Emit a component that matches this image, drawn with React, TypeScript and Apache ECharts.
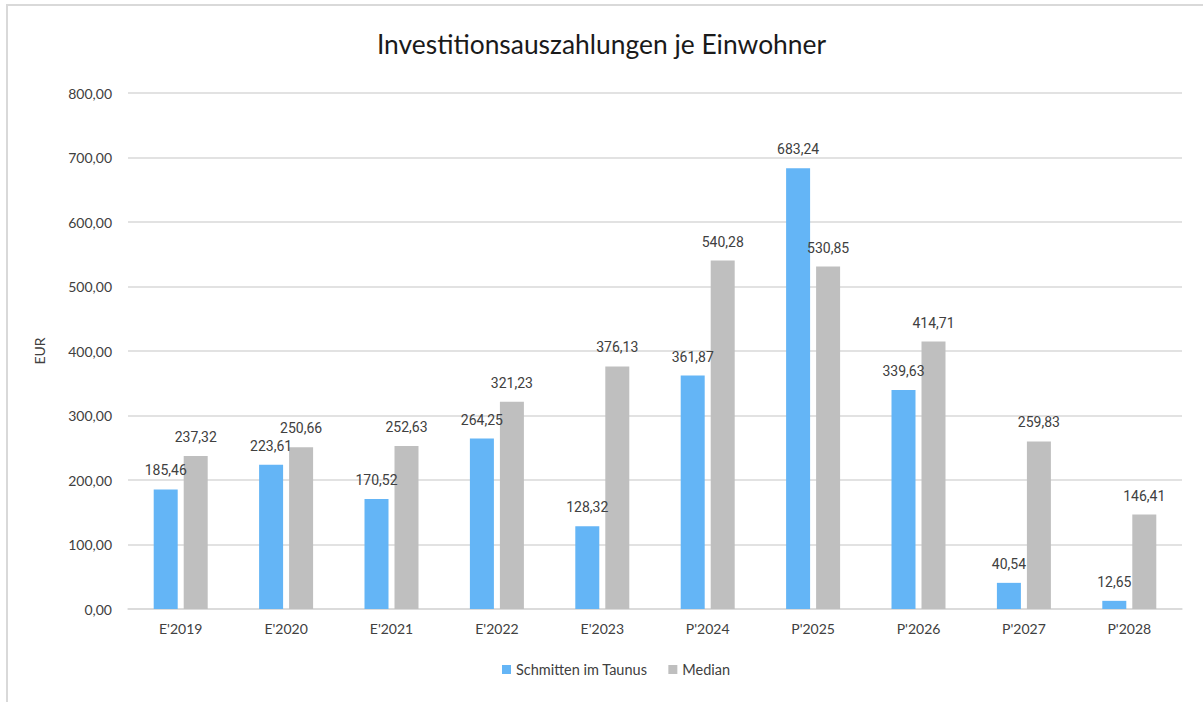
import React, { useEffect, useRef } from "react";
import * as echarts from "echarts";

const categories = ["E'2019", "E'2020", "E'2021", "E'2022", "E'2023", "P'2024", "P'2025", "P'2026", "P'2027", "P'2028"];
const schmittenValues = [185.46, 223.61, 170.52, 264.25, 128.32, 361.87, 683.24, 339.63, 40.54, 12.65];
const medianValues = [237.32, 250.66, 252.63, 321.23, 376.13, 540.28, 530.85, 414.71, 259.83, 146.41];
const seriesNames = ["Schmitten im Taunus", "Median"];
const titleText = "Investitionsauszahlungen je Einwohner";
const yAxisName = "EUR";

const fmt = (v: number) => v.toFixed(2).replace(".", ",");

export default function App() {
  const ref = useRef<HTMLDivElement>(null);
  useEffect(() => {
    if (!ref.current) return;
    const chart = echarts.init(ref.current, undefined, { renderer: "svg" });
    const labelStyle = {
      show: true,
      position: "top" as const,
      distance: 12,
      fontFamily: "Roboto",
      fontSize: 14,
      color: "#404040",
      formatter: (p: any) => fmt(p.value),
    };
    chart.setOption({
      animation: false,
      backgroundColor: "#ffffff",
      title: {
        text: titleText,
        left: "center",
        top: 26,
        textStyle: { fontFamily: "Lato", fontSize: 26.4, fontWeight: "normal", color: "#1a1a1a" },
      },
      legend: {
        data: seriesNames,
        bottom: 20,
        left: 497,
        icon: "rect",
        itemWidth: 9,
        itemHeight: 9,
        itemGap: 21,
        textStyle: { fontFamily: "Lato", fontSize: 14.5, color: "#404040" },
      },
      grid: { left: 128, right: 21, top: 93, bottom: 93, containLabel: false },
      xAxis: {
        type: "category",
        data: categories,
        axisLine: { lineStyle: { color: "#d9d9d9", width: 1.5 } },
        axisTick: { show: false },
        axisLabel: { margin: 12, fontFamily: "Lato", fontSize: 14, color: "#404040" },
      },
      yAxis: {
        type: "value",
        min: 0,
        max: 800,
        interval: 100,
        name: yAxisName,
        nameLocation: "middle",
        nameRotate: 90,
        nameGap: 82,
        nameTextStyle: { fontFamily: "Lato", fontSize: 14, color: "#404040" },
        axisLine: { show: false },
        axisTick: { show: false },
        axisLabel: { margin: 16, fontFamily: "Lato", fontSize: 14, color: "#404040", formatter: (v: number) => fmt(v) },
        splitLine: { lineStyle: { color: "#d9d9d9", width: 1.5 } },
      },
      series: [
        {
          name: seriesNames[0],
          type: "bar",
          data: schmittenValues,
          barWidth: 24,
          barGap: "25%",
          itemStyle: { color: "#64B5F6" },
          label: labelStyle,
        },
        {
          name: seriesNames[1],
          type: "bar",
          data: medianValues,
          barWidth: 24,
          barGap: "25%",
          itemStyle: { color: "#BFBFBF" },
          label: labelStyle,
        },
      ],
    });
    return () => chart.dispose();
  }, []);
  return (
    <div style={{ position: "fixed", left: 0, top: 0, width: 1203, height: 702, overflow: "hidden", background: "#fff" }}>
      <div ref={ref} style={{ position: "absolute", left: 0, top: 0, width: 1203, height: 702 }} />
      <div
        style={{
          position: "absolute",
          left: 6,
          top: 4,
          width: 1240,
          height: 740,
          border: "2px solid #d9d9d9",
          pointerEvents: "none",
        }}
      />
    </div>
  );
}
